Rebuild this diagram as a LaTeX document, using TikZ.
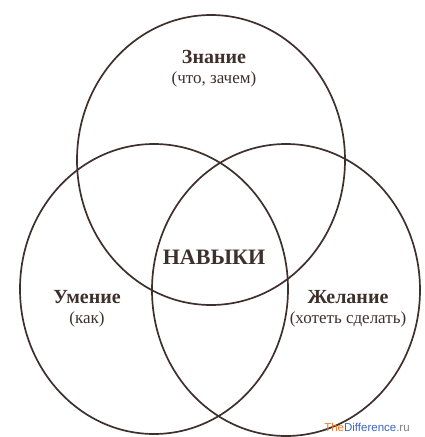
\documentclass[tikz,border=0pt]{standalone}
\usepackage{fontspec}
\setmainfont{Liberation Serif}
\newfontfamily\markfont{Liberation Sans}
\usetikzlibrary{positioning}

\definecolor{ink}{RGB}{62,48,44}
\definecolor{markorange}{RGB}{240,120,40}
\definecolor{markblue}{RGB}{60,100,190}
\definecolor{markgray}{RGB}{130,130,130}

\tikzset{
  ring/.style={ink,line width=1.7pt},
  title/.style={ink,inner sep=1pt,font=\bfseries\fontsize{20}{21}\selectfont},
  sub/.style={ink,inner sep=1pt,font=\fontsize{17}{18}\selectfont}
}

\begin{document}
\begin{tikzpicture}[x=1pt,y=-1pt]
        \useasboundingbox (0,0) rectangle (425,437);

        % circle centres
        \coordinate (know) at (211,160);
        \coordinate (skill) at (154,289);
        \coordinate (wish) at (286,290);

        \draw[ring] (know) ellipse (134 and 145);
        \draw[ring] (skill) ellipse (134 and 145);
        \draw[ring] (wish) ellipse (134 and 146);

        \node[title] (znanie) at (214,57) {Знание};
        \node[sub,below=6pt of znanie] (znaniesub) {(что, зачем)};

        \node[title] (umenie) at (87,297) {Умение};
        \node[sub,below=6pt of umenie] (umeniesub) {(как)};

        \node[title] (zhelanie) at (348,297) {Желание};
        \node[sub,below=6pt of zhelanie] (zhelaniesub) {(хотеть сделать)};

        \node[ink,font=\bfseries\fontsize{22}{24}\selectfont] (navyki) at (214,257) {НАВЫКИ};

        \node[font=\markfont\fontsize{11.5}{12}\selectfont,inner sep=0pt] (mark) at (367,427)
        {\textcolor{markorange}{The}\textcolor{markblue}{Difference}\textcolor{markgray}{.ru}};
    \end{tikzpicture}
\end{document}
